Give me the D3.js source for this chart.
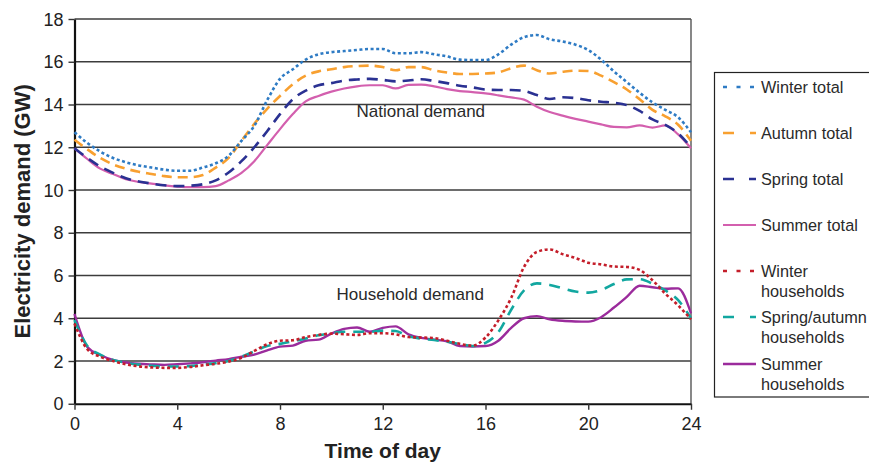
<!DOCTYPE html>
<html>
<head>
<meta charset="utf-8">
<script src="https://cdn.jsdelivr.net/npm/d3@7"></script>
<style>
  html, body { margin: 0; padding: 0; background: #fff; }
  svg { display: block; font-family: "Liberation Sans", Arial, sans-serif; }
</style>
</head>
<body>
<svg id="chart" width="869" height="462"></svg>
<script>
// ---- Data ----
const hours = d3.range(0, 24.01, 0.5);

const winterTotal = [12.7,12.2,11.8,11.5,11.3,11.15,11.05,10.95,10.9,10.9,11.05,11.25,11.6,12.3,13.0,14.2,15.2,15.65,16.1,16.35,16.45,16.5,16.55,16.6,16.6,16.4,16.4,16.45,16.35,16.25,16.1,16.08,16.08,16.35,16.8,17.15,17.25,17.05,16.95,16.8,16.55,16.1,15.55,15.05,14.55,14.1,13.75,13.4,12.7];
const autumnTotal = [12.35,11.9,11.5,11.2,11.0,10.85,10.75,10.65,10.6,10.6,10.7,11.05,11.5,12.3,13.1,13.8,14.4,14.95,15.35,15.55,15.65,15.75,15.8,15.82,15.75,15.6,15.75,15.75,15.6,15.5,15.43,15.43,15.45,15.5,15.7,15.82,15.6,15.45,15.53,15.58,15.57,15.35,15.05,14.7,14.25,13.75,13.45,13.05,12.3];
const springTotal = [11.95,11.5,11.1,10.8,10.55,10.4,10.3,10.22,10.18,10.2,10.27,10.45,10.82,11.35,12.0,12.75,13.55,14.25,14.65,14.9,15.0,15.12,15.17,15.2,15.15,15.08,15.12,15.18,15.1,15.0,14.88,14.8,14.7,14.68,14.68,14.63,14.44,14.26,14.34,14.3,14.2,14.13,14.08,13.97,13.7,13.3,13.05,12.65,12.0];
const summerTotal = [11.95,11.45,11.0,10.75,10.5,10.38,10.3,10.22,10.16,10.13,10.13,10.18,10.45,10.8,11.35,12.1,12.85,13.55,14.15,14.4,14.6,14.75,14.85,14.9,14.9,14.75,14.92,14.93,14.85,14.72,14.63,14.58,14.52,14.43,14.33,14.23,13.9,13.65,13.48,13.33,13.2,13.07,12.95,12.93,13.02,12.92,13.02,12.6,11.95];
const winterHouseholds = [3.75,2.55,2.2,2.0,1.85,1.75,1.7,1.68,1.68,1.72,1.8,1.87,1.97,2.15,2.47,2.78,2.95,2.97,3.12,3.22,3.28,3.25,3.22,3.3,3.3,3.25,3.12,3.1,3.07,2.95,2.8,2.72,3.1,3.9,4.95,6.4,7.1,7.22,7.0,6.82,6.6,6.52,6.42,6.4,6.26,5.78,5.15,4.6,3.95];
const springAutumnHouseholds = [3.92,2.7,2.3,2.05,1.92,1.83,1.78,1.74,1.74,1.76,1.83,1.9,2.0,2.2,2.45,2.7,2.8,2.92,3.05,3.2,3.3,3.37,3.37,3.37,3.42,3.4,3.15,3.05,2.98,2.9,2.8,2.7,2.85,3.35,4.4,5.3,5.63,5.56,5.4,5.25,5.2,5.32,5.6,5.82,5.83,5.62,5.3,4.85,4.0];
const summerHouseholds = [4.2,2.65,2.28,2.05,1.93,1.87,1.84,1.82,1.85,1.89,1.94,2.02,2.09,2.2,2.3,2.5,2.67,2.72,2.95,3.0,3.28,3.5,3.57,3.37,3.55,3.62,3.25,3.08,3.0,2.92,2.7,2.68,2.7,2.95,3.55,4.0,4.1,3.95,3.88,3.85,3.84,4.05,4.5,5.0,5.52,5.45,5.38,5.4,4.23];

const seriesNames = ["Winter total","Autumn total","Spring total","Summer total","Winter\nhouseholds","Spring/autumn\nhouseholds","Summer\nhouseholds"];
const seriesValues = [winterTotal, autumnTotal, springTotal, summerTotal, winterHouseholds, springAutumnHouseholds, summerHouseholds];
const yTicks = [0,2,4,6,8,10,12,14,16,18];
const xTicks = [0,4,8,12,16,20,24];
const annotations = [{text:"National demand", x:10.98, y:13.4}, {text:"Household demand", x:10.2, y:4.85}];

// ---- Styles ----
const colors = ["#2e7bc4","#f8a030","#2a3192","#d35fae","#c41e2a","#12a7a0","#9b2b9c"];
const dashes = ["3,2.6","10,6","11,7","none","3,2.6","11,8","none"];
const legendDashes = ["4,9.5","11,16","11,15","none","4,9.5","11,16","none"];
const widths = [2.6,2.6,2.6,2.2,2.6,2.6,2.4];

const svg = d3.select("#chart");
const x = d3.scaleLinear().domain([0,24]).range([74.5, 691]);
const y = d3.scaleLinear().domain([0,18]).range([403.75, 19]);

// gridlines
svg.append("g").selectAll("line").data(yTicks.filter(d => d > 0)).join("line")
  .attr("x1", x(0)).attr("x2", x(24))
  .attr("y1", d => y(d)).attr("y2", d => y(d))
  .attr("stroke", "#3c3c3c").attr("stroke-width", 1.4);
// right border
svg.append("line").attr("x1", x(24)).attr("x2", x(24)).attr("y1", y(18)).attr("y2", y(0))
  .attr("stroke", "#555").attr("stroke-width", 1.4);

// axes
const yAxis = svg.append("g").attr("transform", `translate(${x(0)},0)`)
  .call(d3.axisLeft(y).tickValues(yTicks).tickSize(6).tickPadding(5).tickSizeOuter(0));
const xAxis = svg.append("g").attr("transform", `translate(0,${y(0)})`)
  .call(d3.axisBottom(x).tickValues(xTicks).tickSize(6).tickPadding(6).tickSizeOuter(0));
[yAxis, xAxis].forEach(a => {
  a.select(".domain").attr("stroke", "#111").attr("stroke-width", 2.2);
  a.selectAll(".tick line").attr("stroke", "#333").attr("stroke-width", 1.4);
  a.selectAll(".tick text").attr("fill", "#222").style("font-size", "18px")
    .style("font-family", '"Liberation Sans", Arial, sans-serif');
});
yAxis.selectAll(".tick text").attr("dy", "0.34em");
xAxis.selectAll(".tick text").attr("dy", "0.78em");

// axis titles
svg.append("text").attr("x", x(12)).attr("y", 458)
  .attr("text-anchor", "middle").attr("font-weight", "bold").attr("font-size", 21)
  .attr("fill", "#222").text("Time of day");
svg.append("text").attr("transform", `translate(30,${y(9)}) rotate(-90)`)
  .attr("text-anchor", "middle").attr("font-weight", "bold").attr("font-size", 22)
  .attr("fill", "#222").text("Electricity demand (GW)");

// lines
const line = d3.line().x((d, i) => x(hours[i])).y(d => y(d)).curve(d3.curveMonotoneX);
const order = [3,2,1,0,6,5,4];
order.forEach(k => {
  svg.append("path").datum(seriesValues[k])
    .attr("d", line).attr("fill", "none")
    .attr("stroke", colors[k]).attr("stroke-width", widths[k])
    .attr("stroke-dasharray", dashes[k]);
});

// annotations
svg.append("g").selectAll("text").data(annotations).join("text")
  .attr("x", d => x(d.x)).attr("y", d => y(d.y))
  .attr("font-size", 17).attr("fill", "#2a2a2a").text(d => d.text);

// legend
const lg = svg.append("g");
lg.append("rect").attr("x", 714.5).attr("y", 72.5).attr("width", 200).attr("height", 324.5)
  .attr("fill", "#fff").attr("stroke", "#222").attr("stroke-width", 1.2);
const legendY = [87, 133, 179, 225, 271, 317, 364];
seriesNames.forEach((name, k) => {
  const cy = legendY[k];
  lg.append("line").attr("x1", 723).attr("x2", 756).attr("y1", cy).attr("y2", cy)
    .attr("stroke", colors[k]).attr("stroke-width", widths[k])
    .attr("stroke-dasharray", legendDashes[k]);
  const t = lg.append("text").attr("x", 761).attr("y", cy + 6)
    .attr("font-size", 16.3).attr("fill", "#2a2a2a");
  name.split("\n").forEach((s, j) => {
    t.append("tspan").attr("x", 761).attr("dy", j === 0 ? 0 : 19.5).text(s);
  });
});
</script>
</body>
</html>
